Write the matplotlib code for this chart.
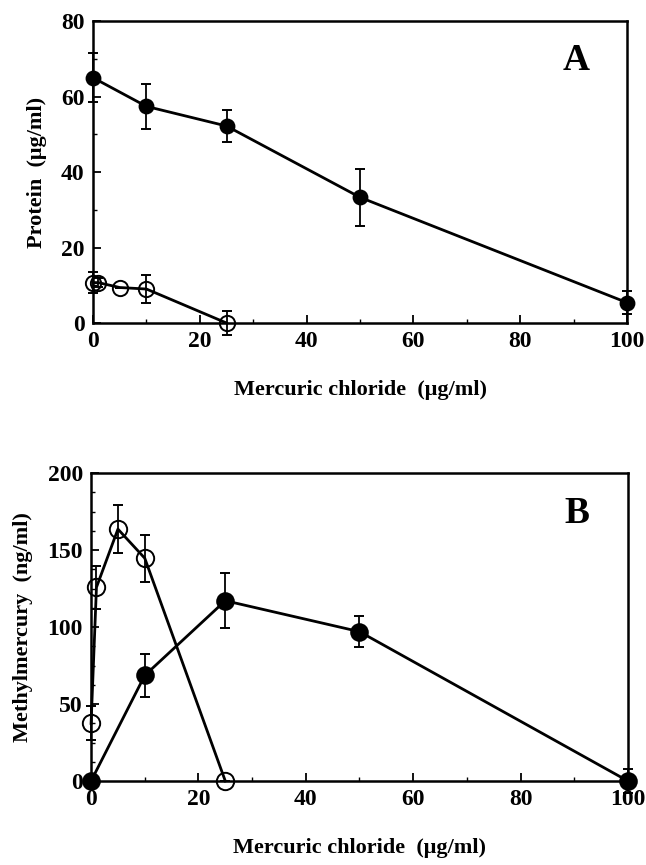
import matplotlib
matplotlib.use("Agg")
import matplotlib.pyplot as plt
from matplotlib.ticker import MultipleLocator

plt.rcParams["font.family"] = ["Liberation Serif", "DejaVu Serif"]
plt.rcParams["font.weight"] = "bold"

# panel A: protein
a_fill_x = [0, 10, 25, 50, 100]
a_fill_y = [65, 57.4, 52.2, 33.3, 5.4]
a_fill_err = [6.5, 6, 4.2, 7.5, 3]
a_open_x = [0, 1, 5, 10, 25]
a_open_y = [10.7, 10.7, 9.4, 9.0, 0]
a_open_err = [2.7, 1.2, 0, 3.7, 3.3]

# panel B: methylmercury
b_fill_x = [0, 10, 25, 50, 100]
b_fill_y = [0, 68.6, 117.1, 97, 0]
b_fill_err = [0, 13.9, 18, 10, 7.6]
b_open_x = [0, 1, 5, 10, 25]
b_open_y = [37.4, 125.8, 163.6, 144.7, 0]
b_open_err = [11, 14, 15.5, 15.3, 0]

xlabel = "Mercuric chloride  (\u03bcg/ml)"

fig = plt.figure(figsize=(6.46, 8.65), dpi=100)
axA = fig.add_axes([0.144, 0.6266, 0.8266, 0.349])
axB = fig.add_axes([0.141, 0.0971, 0.831, 0.356])


def draw(ax, xs, ys, errs, filled, ms):
    ax.errorbar(xs, ys, yerr=errs, color="black", lw=2, capsize=3.5,
                capthick=1.5, elinewidth=1.3, marker="o", ms=ms,
                mfc="black" if filled else "none", mec="black", mew=1.4,
                clip_on=False, zorder=3)


draw(axA, a_fill_x, a_fill_y, a_fill_err, True, 10)
draw(axA, a_open_x, a_open_y, a_open_err, False, 11)
draw(axB, b_fill_x, b_fill_y, b_fill_err, True, 12)
draw(axB, b_open_x, b_open_y, b_open_err, False, 12.5)

for ax, ymax, major, minor, ylab, letter in [
    (axA, 80, 20, 10, "Protein  (\u03bcg/ml)", "A"),
    (axB, 200, 50, 12.5, "Methylmercury  (ng/ml)", "B"),
]:
    ax.set_xlim(0, 100)
    ax.set_ylim(0, ymax)
    ax.xaxis.set_major_locator(MultipleLocator(20))
    ax.xaxis.set_minor_locator(MultipleLocator(10))
    ax.yaxis.set_major_locator(MultipleLocator(major))
    ax.yaxis.set_minor_locator(MultipleLocator(minor))
    ax.tick_params(which="major", direction="in", length=6, width=1.3,
                   labelsize=17, pad=6)
    ax.tick_params(which="minor", direction="in", length=3, width=1)
    for s in ax.spines.values():
        s.set_linewidth(1.8)
    for lab in ax.get_xticklabels() + ax.get_yticklabels():
        lab.set_fontweight("bold")
    ax.set_xlabel(xlabel, fontsize=16, fontweight="bold", labelpad=20)
    ax.set_ylabel(ylab, fontsize=16, fontweight="bold", labelpad=10)
    ax.text(0.905, 0.87, letter, transform=ax.transAxes, fontsize=27,
            fontweight="bold", ha="center", va="center")

fig.savefig("out.png", dpi=100)
